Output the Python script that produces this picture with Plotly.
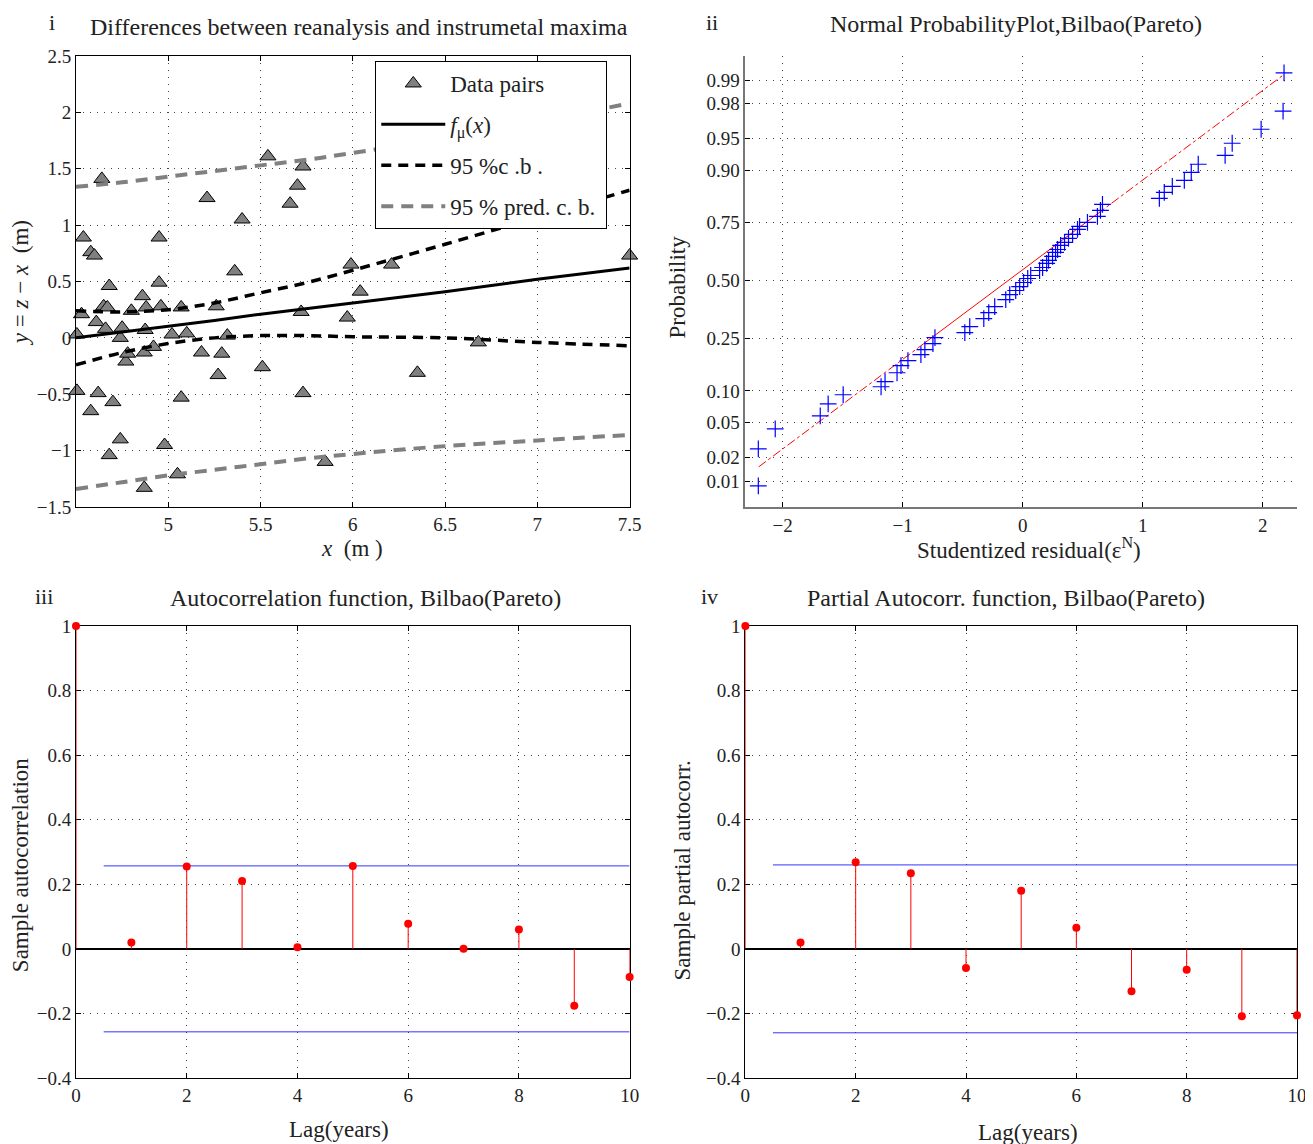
import plotly.graph_objects as go
from statistics import NormalDist

# ---------------- data ----------------
# Panel i: data pairs (x = instrumental maxima, y = z - x)
pair_x = [4.505, 4.53, 4.54, 4.58, 4.60, 4.64, 4.61, 4.66, 4.65, 4.67, 4.68, 4.505,
          4.58, 4.62, 4.70, 4.74, 4.68, 4.74, 4.75, 4.77, 4.78, 4.80, 4.86, 4.875,
          4.88, 4.87, 4.87, 4.92, 4.95, 4.95, 4.96, 4.98, 5.02, 5.05, 5.07, 5.07,
          5.10, 5.18, 5.21, 5.26, 5.27, 5.29, 5.32, 5.36, 5.40, 5.51, 5.54, 5.66,
          5.70, 5.73, 5.72, 5.73, 5.85, 5.97, 5.99, 6.04, 6.21, 6.35, 6.68, 7.50]
pair_y = [0.03, 0.21, 0.89, 0.76, 0.73, 1.41, 0.14, 0.08, 0.28, 0.27, 0.46, -0.47,
          -0.65, -0.49, -0.57, -0.90, -1.04, 0.00, 0.09, -0.21, -0.14, 0.24, 0.37, 0.07,
          0.27, -0.13, -1.33, -0.08, 0.89, 0.49, 0.28, -0.95, 0.03, -1.21, -0.53, 0.27,
          0.04, -0.13, 1.24, 0.28, -0.33, -0.14, 0.02, 0.59, 1.05, -0.26, 1.61, 1.19,
          1.35, 1.52, 0.23, -0.49, -1.10, 0.18, 0.65, 0.41, 0.65, -0.31, -0.04, 0.73]

band_x = [4.5, 4.75, 5.0, 5.25, 5.5, 5.75, 6.0, 6.5, 7.0, 7.5]
f_mu = [0.00, 0.05, 0.10, 0.155, 0.21, 0.26, 0.31, 0.41, 0.52, 0.62]
cb_up = [0.24, 0.23, 0.25, 0.31, 0.40, 0.49, 0.60, 0.83, 1.07, 1.31]
cb_lo = [-0.24, -0.13, -0.05, 0.00, 0.02, 0.02, 0.01, 0.00, -0.04, -0.07]
pred_up = [1.34, 1.38, 1.43, 1.48, 1.53, 1.58, 1.64, 1.77, 1.92, 2.08]
pred_lo = [-1.34, -1.28, -1.22, -1.17, -1.12, -1.07, -1.03, -0.96, -0.91, -0.86]

# Panel ii: normal probability plot
resid = [-2.203, -2.203, -2.062, -1.687, -1.621, -1.496, -1.180, -1.147, -1.047, -1.014,
         -0.956, -0.848, -0.815, -0.748, -0.731, -0.482, -0.441, -0.324, -0.283, -0.233,
         -0.141, -0.108, -0.058, -0.025, 0.008, 0.042, 0.067, 0.141, 0.166, 0.200,
         0.216, 0.249, 0.274, 0.291, 0.316, 0.349, 0.382, 0.416, 0.457, 0.474,
         0.540, 0.623, 0.648, 0.665, 1.139, 1.180, 1.247, 1.347, 1.405, 1.463,
         1.687, 1.746, 1.987, 2.170, 2.178]
resid_prob = [0.0086, 0.0254, 0.0426, 0.0582, 0.0763, 0.0925, 0.1088, 0.1202, 0.1423, 0.1615,
              0.1762, 0.1948, 0.2112, 0.2319, 0.2537, 0.2726, 0.2963, 0.3293, 0.3549, 0.3813,
              0.4125, 0.4353, 0.4538, 0.4721, 0.4908, 0.5092, 0.5231, 0.5462, 0.5600, 0.5785,
              0.5921, 0.6099, 0.6278, 0.6406, 0.6580, 0.6708, 0.6872, 0.7037, 0.7234, 0.7350,
              0.7499, 0.7716, 0.7922, 0.8116, 0.8297, 0.8469, 0.8628, 0.8775, 0.8954, 0.9113,
              0.9269, 0.9444, 0.9604, 0.9753, 0.9920]
ref_res = [-2.20, -0.87, 0.62, 2.17]
ref_prob = [0.0153, 0.2177, 0.7794, 0.9914]
prob_ticks = [0.01, 0.02, 0.05, 0.10, 0.25, 0.50, 0.75, 0.90, 0.95, 0.98, 0.99]
prob_tick_text = ["0.01", "0.02", "0.05", "0.10", "0.25", "0.50", "0.75", "0.90", "0.95", "0.98", "0.99"]

# Panels iii / iv: autocorrelation
lags = [0, 1, 2, 3, 4, 5, 6, 7, 8, 9, 10]
acf = [1.0, 0.02, 0.255, 0.21, 0.005, 0.257, 0.078, 0.0, 0.06, -0.176, -0.087]
pacf = [1.0, 0.02, 0.268, 0.234, -0.059, 0.18, 0.065, -0.131, -0.065, -0.209, -0.206]
acf_bound = 0.257
pacf_bound = 0.26
bound_lags = [0.5, 10]

# ---------------- figure ----------------
FONT = "Liberation Serif"
W, H = 1313, 1144
OFF = 8  # page body margin
L, R, T, B = 76 - OFF, 13 + OFF, 56 - OFF, 66 + OFF
PW, PH = W - L - R, H - T - B
PLOT_LEFT = L + OFF
PLOT_BOTTOM = H - B + OFF


def pxx(x):
    return (x - PLOT_LEFT) / PW


def pyy(y):
    return (PLOT_BOTTOM - y) / PH


nd = NormalDist()
z = nd.inv_cdf

fig = go.Figure()

GRID = dict(showgrid=True, gridcolor="#444", gridwidth=1, griddash="1px,6px",
            zeroline=False, ticks="inside", ticklen=5, tickcolor="black",
            tickfont=dict(family=FONT, size=19, color="#222"))

# Panel i
gray = "#808080"
fig.add_trace(go.Scatter(x=pair_x, y=pair_y, mode="markers", name="Data pairs",
                         marker=dict(symbol="triangle-up", size=14, color=gray,
                                     line=dict(color="black", width=1)),
                         cliponaxis=False, xaxis="x", yaxis="y", legendgroup="a"))
fig.add_trace(go.Scatter(x=band_x, y=f_mu, mode="lines", name="<i>f</i><sub>μ</sub>(<i>x</i>)",
                         line=dict(color="black", width=3), xaxis="x", yaxis="y", legendgroup="b"))
fig.add_trace(go.Scatter(x=band_x, y=cb_up, mode="lines", name="95 %c .b .",
                         line=dict(color="black", width=3.5, dash="10px,7px", shape="spline"),
                         xaxis="x", yaxis="y", legendgroup="c"))
fig.add_trace(go.Scatter(x=band_x, y=cb_lo, mode="lines", showlegend=False,
                         line=dict(color="black", width=3.5, dash="10px,7px", shape="spline"),
                         xaxis="x", yaxis="y", legendgroup="c"))
fig.add_trace(go.Scatter(x=band_x, y=pred_up, mode="lines", name="95 % pred. c. b. ",
                         line=dict(color=gray, width=4, dash="12px,8px", shape="spline"),
                         xaxis="x", yaxis="y", legendgroup="d"))
fig.add_trace(go.Scatter(x=band_x, y=pred_lo, mode="lines", showlegend=False,
                         line=dict(color=gray, width=4, dash="12px,8px", shape="spline"),
                         xaxis="x", yaxis="y", legendgroup="d"))

# Panel ii
ref_z = [z(p) for p in ref_prob]
fig.add_trace(go.Scatter(x=[ref_res[0], ref_res[1]], y=[ref_z[0], ref_z[1]], mode="lines",
                         line=dict(color="red", width=1, dash="dashdot"), showlegend=False,
                         xaxis="x2", yaxis="y2"))
fig.add_trace(go.Scatter(x=[ref_res[1], ref_res[2]], y=[ref_z[1], ref_z[2]], mode="lines",
                         line=dict(color="red", width=1), showlegend=False,
                         xaxis="x2", yaxis="y2"))
fig.add_trace(go.Scatter(x=[ref_res[2], ref_res[3]], y=[ref_z[2], ref_z[3]], mode="lines",
                         line=dict(color="red", width=1, dash="dashdot"), showlegend=False,
                         xaxis="x2", yaxis="y2"))
fig.add_trace(go.Scatter(x=resid, y=[z(p) for p in resid_prob], mode="markers", showlegend=False,
                         marker=dict(symbol="cross-thin", size=12, color="blue",
                                     line=dict(color="blue", width=1.2)),
                         cliponaxis=False, xaxis="x2", yaxis="y2"))


def stems(vals):
    xs, ys = [], []
    for l, v in zip(lags, vals):
        xs += [l, l, None]
        ys += [0, v, None]
    return xs, ys


for vals, bound, xa, ya in [(acf, acf_bound, "x3", "y3"), (pacf, pacf_bound, "x4", "y4")]:
    sx, sy = stems(vals)
    fig.add_trace(go.Scatter(x=bound_lags, y=[bound, bound], mode="lines", showlegend=False,
                             line=dict(color="#3333ff", width=1), xaxis=xa, yaxis=ya))
    fig.add_trace(go.Scatter(x=bound_lags, y=[-bound, -bound], mode="lines", showlegend=False,
                             line=dict(color="#3333ff", width=1), xaxis=xa, yaxis=ya))
    fig.add_trace(go.Scatter(x=sx, y=sy, mode="lines", showlegend=False,
                             line=dict(color="red", width=1), xaxis=xa, yaxis=ya,
                             cliponaxis=False))
    fig.add_trace(go.Scatter(x=lags, y=vals, mode="markers", showlegend=False,
                             marker=dict(symbol="circle", size=8, color="red"),
                             cliponaxis=False, xaxis=xa, yaxis=ya))

box = dict(showline=True, linecolor="black", linewidth=1, mirror="ticks")
xd1 = [0, pxx(631)]
xd2 = [pxx(747), 1]
yd_top = [pyy(507), 1]
yd_bot = [0, pyy(626)]

fig.update_layout(
    width=W, height=H,
    margin=dict(l=L, r=R, t=T, b=B),
    paper_bgcolor="white", plot_bgcolor="white",
    font=dict(family=FONT, size=19, color="#222"),
    xaxis=dict(domain=xd1, anchor="y", range=[4.5, 7.5],
               tickvals=[5, 5.5, 6, 6.5, 7, 7.5], **GRID, **box),
    yaxis=dict(domain=yd_top, anchor="x", range=[-1.5, 2.5],
               tickvals=[-1.5, -1, -0.5, 0, 0.5, 1, 1.5, 2, 2.5], **GRID, **box),
    xaxis2=dict(domain=xd2, anchor="y2", range=[-2.311, 2.286],
                tickvals=[-2, -1, 0, 1, 2], showline=True, linecolor="#777", linewidth=1.5,
                **GRID),
    yaxis2=dict(domain=yd_top, anchor="x2", range=[-2.628, 2.605],
                tickvals=[z(p) for p in prob_ticks], ticktext=prob_tick_text,
                showline=True, linecolor="#777", linewidth=1.5, **GRID),
    xaxis3=dict(domain=xd1, anchor="y3", range=[0, 10], tickvals=[0, 2, 4, 6, 8, 10],
                layer="below traces", **GRID, **box),
    yaxis3=dict(domain=yd_bot, anchor="x3", range=[-0.4, 1.0],
                tickvals=[-0.4, -0.2, 0, 0.2, 0.4, 0.6, 0.8, 1],
                layer="below traces", **{k: v for k, v in GRID.items() if k != "zeroline"},
                zeroline=True, zerolinecolor="black", zerolinewidth=1.5, **box),
    xaxis4=dict(domain=xd2, anchor="y4", range=[0, 10], tickvals=[0, 2, 4, 6, 8, 10],
                layer="below traces", **GRID, **box),
    yaxis4=dict(domain=yd_bot, anchor="x4", range=[-0.4, 1.0],
                tickvals=[-0.4, -0.2, 0, 0.2, 0.4, 0.6, 0.8, 1],
                layer="below traces", **{k: v for k, v in GRID.items() if k != "zeroline"},
                zeroline=True, zerolinecolor="black", zerolinewidth=1.5, **box),
    legend=dict(x=pxx(376), y=pyy(61), xanchor="left", yanchor="top",
                bgcolor="white", bordercolor="black", borderwidth=1,
                font=dict(family=FONT, size=23, color="#222"),
                traceorder="grouped", tracegroupgap=8, itemwidth=64),
)

ann = []


def add_text(text, x, y, size=20, angle=0, xanchor="center"):
    ann.append(dict(text=text, x=pxx(x), y=pyy(y), xref="paper", yref="paper",
                    showarrow=False, textangle=angle, xanchor=xanchor, yanchor="middle",
                    font=dict(family=FONT, size=size, color="#222")))


# titles
add_text("Differences between reanalysis and instrumetal maxima", 360, 27, 24)
add_text("Normal ProbabilityPlot,Bilbao(Pareto)", 1018, 24, 24)
add_text("Autocorrelation function, Bilbao(Pareto)", 366, 598, 24)
add_text("Partial Autocorr. function, Bilbao(Pareto)", 1008, 598, 24)
# panel labels
add_text("i", 52, 22, 22)
add_text("ii", 714, 22, 22)
add_text("iii", 44, 596, 22)
add_text("iv", 711, 596, 22)
# axis titles
add_text("<i>x</i>  (m )", 353, 548, 23)
add_text("Studentized residual(ε<sup>N</sup>)", 1031, 548, 23)
add_text("Lag(years)", 340, 1130, 23)
add_text("Lag(years)", 1030, 1132, 23)
add_text("<i>y</i> = <i>z</i> − <i>x</i>  (m)", 20, 283, 23, angle=-90)
add_text("Probability", 678, 287, 23, angle=-90)
add_text("Sample autocorrelation", 20, 865, 23, angle=-90)
add_text("Sample partial autocorr.", 683, 871, 23, angle=-90)

fig.update_layout(annotations=ann)
fig.write_html("out.html")
